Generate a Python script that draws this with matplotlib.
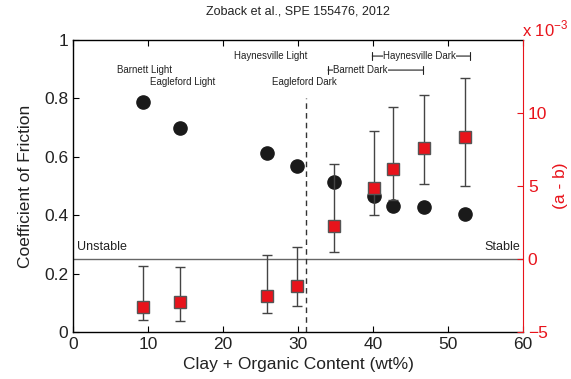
import matplotlib
matplotlib.use("Agg")
import matplotlib.pyplot as plt

plt.rcParams['font.family'] = ['Liberation Sans', 'DejaVu Sans']
plt.rcParams['mathtext.fontset'] = 'custom'
plt.rcParams['mathtext.rm'] = 'Liberation Sans'

# Friction coefficient (left axis)
mu_x = [9.3, 14.2, 25.8, 29.8, 34.8, 40.1, 42.7, 46.8, 52.3]
mu_y = [0.787, 0.699, 0.613, 0.568, 0.514, 0.467, 0.433, 0.428, 0.404]

# (a - b) x 1e-3 (right axis)
ab_x = [9.3, 14.2, 25.8, 29.8, 34.8, 40.1, 42.7, 46.8, 52.3]
ab_y = [-3.27, -2.97, -2.53, -1.87, 2.26, 4.84, 6.14, 7.58, 8.36]
ab_hi = [-0.48, -0.53, 0.30, 0.82, 6.48, 8.77, 10.41, 11.2, 12.42]
ab_lo = [-4.18, -4.27, -3.68, -3.24, 0.50, 3.01, 4.06, 5.16, 4.98]

red = '#e8131b'

fig = plt.figure(figsize=(5.71, 3.79), dpi=100)
ax = fig.add_axes([73/571, 1-332/379, 450/571, 292/379])
ax2 = ax.twinx()

ax.set_xlim(0, 60)
ax.set_ylim(0, 1)
ax2.set_ylim(-5, 15)

ax.set_xticks([0, 10, 20, 30, 40, 50, 60])
ax.set_yticks([0, 0.2, 0.4, 0.6, 0.8, 1.0])
ax.set_yticklabels(['0', '0.2', '0.4', '0.6', '0.8', '1'])
ax2.set_yticks([-5, 0, 5, 10])
ax2.set_yticklabels(['\u22125', '0', '5', '10'])

ax.tick_params(direction='in', labelsize=12.5, length=4, top=True, right=False, width=0.8,
               labelcolor='#222222')
ax2.tick_params(direction='in', labelsize=12.5, length=4, colors=red, width=0.8)
ax2.spines['right'].set_color(red)
for s in ['left', 'bottom', 'top']:
    ax2.spines[s].set_visible(False)
for s in ['left', 'bottom', 'top']:
    ax.spines[s].set_linewidth(1.0)
ax.spines['right'].set_visible(False)

# Reference lines
ax.axhline(0.25, color='#666666', lw=1.0, zorder=1)
ax.plot([31.1, 31.1], [0, 0.8], ls=(0, (4, 3)), color='#333333', lw=1.0, zorder=1)

# Friction circles
ax.plot(mu_x, mu_y, 'o', color='#1a1a1a', markersize=9.5, zorder=3)

# (a-b) with error bars
yerr = [[y - lo for y, lo in zip(ab_y, ab_lo)], [hi - y for y, hi in zip(ab_y, ab_hi)]]
ax2.errorbar(ab_x, ab_y, yerr=yerr, fmt='none', ecolor='#444444', elinewidth=1.0,
             capsize=3.5, capthick=1.0, zorder=2)
ax2.plot(ab_x, ab_y, 's', markerfacecolor=red, markeredgecolor='#555555',
         markeredgewidth=1.0, markersize=8.5, zorder=4)

# Labels
ax.set_xlabel('Clay + Organic Content (wt%)', fontsize=12.5, labelpad=4, color='#222222')
ax.set_ylabel('Coefficient of Friction', fontsize=12.5, labelpad=8, color='#222222')
ax2.set_ylabel('(a - b)', fontsize=12.5, color=red, labelpad=4)
ax.set_title('Zoback et al., SPE 155476, 2012', fontsize=9, pad=18, color='#222222')
fig.text(522/571, 1-36/379, r'x 10$^{\mathrm{\u2212}3}$'.replace('\\u2212', '\u2212'),
         color=red, fontsize=12, ha='left', va='baseline')

ax.text(0.6, 0.27, 'Unstable', fontsize=9, ha='left', va='bottom', color='#222222')
ax.text(59.6, 0.27, 'Stable', fontsize=9, ha='right', va='bottom', color='#222222')

fs = 7
ax.text(9.5, 0.897, 'Barnett Light', fontsize=fs, ha='center', va='center', color='#222222')
ax.text(14.6, 0.856, 'Eagleford Light', fontsize=fs, ha='center', va='center', color='#222222')
ax.text(26.3, 0.945, 'Haynesville Light', fontsize=fs, ha='center', va='center', color='#222222')
ax.text(30.8, 0.856, 'Eagleford Dark', fontsize=fs, ha='center', va='center', color='#222222')

# Range bars
for (x0, x1, yy, lab, xl) in [(39.9, 52.9, 0.945, 'Haynesville Dark', 46.2),
                             (34.0, 46.7, 0.897, 'Barnett Dark', 38.3)]:
    ax.annotate('', xy=(x0, yy), xytext=(x1, yy),
                arrowprops=dict(arrowstyle='|-|', color='#222222', lw=0.8,
                                mutation_scale=3, shrinkA=0, shrinkB=0))
    ax.text(xl, yy, lab, fontsize=fs, ha='center', va='center', color='#222222',
            bbox=dict(facecolor='white', edgecolor='none', pad=0.3))

fig.savefig('out.png', dpi=100)
